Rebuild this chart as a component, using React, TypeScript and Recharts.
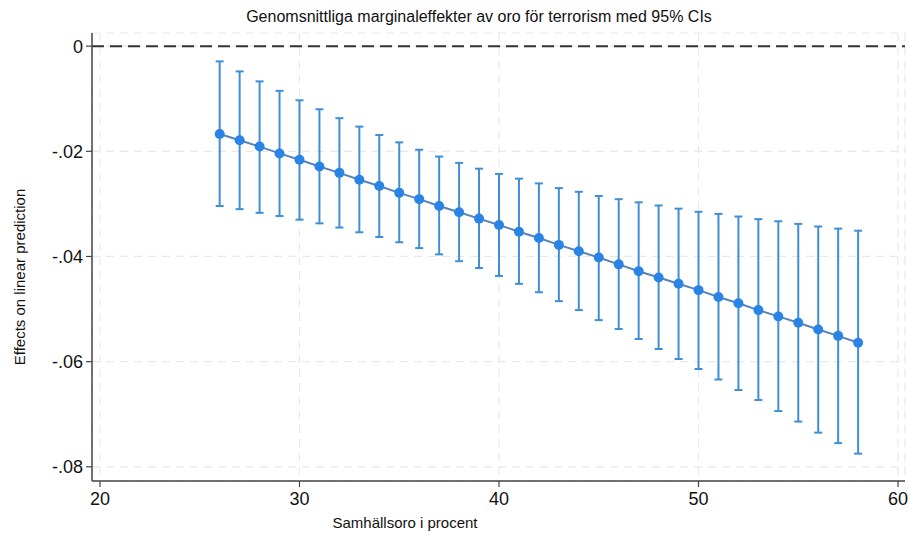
import {CartesianGrid, ComposedChart, ErrorBar, Line, ReferenceLine, XAxis, YAxis} from 'recharts';

// Samhällsoro (percent) values where margins were evaluated
const oroLevels = [26, 27, 28, 29, 30, 31, 32, 33, 34, 35, 36, 37, 38, 39, 40, 41, 42,
    43, 44, 45, 46, 47, 48, 49, 50, 51, 52, 53, 54, 55, 56, 57, 58];

// average marginal effect (point estimates)
const effects = [-0.0167, -0.0179, -0.0191, -0.0204, -0.0216, -0.0229, -0.0241, -0.0254, -0.0266,
    -0.0279, -0.0291, -0.0304, -0.0316, -0.0328, -0.0340, -0.0353, -0.0365, -0.0378, -0.0390,
    -0.0402, -0.0415, -0.0428, -0.0440, -0.0452, -0.0464, -0.0477, -0.0489, -0.0502, -0.0514,
    -0.0526, -0.0539, -0.0551, -0.0564];

// 95% CI upper bounds
const ciUpper = [-0.0029, -0.0048, -0.0067, -0.0085, -0.0103, -0.0120, -0.0137, -0.0153, -0.0169,
    -0.0183, -0.0197, -0.0210, -0.0222, -0.0233, -0.0243, -0.0252, -0.0261, -0.0270, -0.0277,
    -0.0285, -0.0291, -0.0297, -0.0303, -0.0309, -0.0315, -0.0319, -0.0324, -0.0329, -0.0333,
    -0.0338, -0.0343, -0.0347, -0.0351];

// 95% CI lower bounds
const ciLower = [-0.0304, -0.0310, -0.0317, -0.0323, -0.0330, -0.0337, -0.0345, -0.0354, -0.0363,
    -0.0373, -0.0384, -0.0396, -0.0409, -0.0422, -0.0437, -0.0452, -0.0468, -0.0485, -0.0502,
    -0.0521, -0.0538, -0.0557, -0.0576, -0.0595, -0.0614, -0.0634, -0.0654, -0.0673, -0.0694,
    -0.0714, -0.0735, -0.0755, -0.0775];

const xTicks = [20, 30, 40, 50, 60];
const yTicks = [0, -0.02, -0.04, -0.06, -0.08];

const FONT = '"Liberation Sans", Arial, sans-serif';

const chartData = oroLevels.map((x, i) => ({
    x,
    effect: effects[i],
    // ErrorBar wants distances from the point: [below, above]
    ci: [effects[i] - ciLower[i], ciUpper[i] - effects[i]]
}));

const formatY = (v: number) => {
    if (v === 0) return '0';
    return v.toFixed(2).replace('0.', '.');
};

const App = () => {
    return (
        <div style={{position: 'absolute', left: 0, top: 0, width: 909, height: 543, background: '#fff', fontFamily: FONT}}>
            <div style={{position: 'absolute', left: 0, top: 7, width: 958, textAlign: 'center', fontSize: 16, color: '#111', lineHeight: '20px'}}>
                Genomsnittliga marginaleffekter av oro för terrorism med 95% CIs
            </div>
            <ComposedChart
                width={909}
                height={543}
                data={chartData}
                margin={{top: 33, right: 4, bottom: 0, left: 0}}
            >
                <CartesianGrid stroke="#e8e8e8" strokeDasharray="8 6" strokeWidth={1.2}/>
                <XAxis
                    dataKey="x"
                    type="number"
                    domain={[19.6, 60.35]}
                    allowDataOverflow
                    ticks={xTicks}
                    height={62}
                    tick={{fontSize: 18, fill: '#111', fontFamily: FONT}}
                    tickSize={6}
                    tickMargin={5}
                    axisLine={{stroke: '#444', strokeWidth: 1.5}}
                    tickLine={{stroke: '#444', strokeWidth: 1.2}}
                    label={{
                        content: () => (
                            <text x={405} y={528} textAnchor="middle" fontSize={15} fill="#111" fontFamily={FONT}>
                                Samhällsoro i procent
                            </text>
                        )
                    }}
                />
                <YAxis
                    type="number"
                    domain={[-0.0827, 0.0025]}
                    allowDataOverflow
                    ticks={yTicks}
                    tickFormatter={formatY}
                    width={92}
                    tick={{fontSize: 18, fill: '#111', fontFamily: FONT}}
                    tickSize={6}
                    tickMargin={3}
                    axisLine={{stroke: '#444', strokeWidth: 1.5}}
                    tickLine={{stroke: '#444', strokeWidth: 1.2}}
                    label={{
                        content: () => (
                            <text x={25} y={277} textAnchor="middle" fontSize={15} fill="#111" fontFamily={FONT}
                                  transform="rotate(-90 25 277)">
                                Effects on linear prediction
                            </text>
                        )
                    }}
                />
                <ReferenceLine y={0} stroke="#333" strokeWidth={2} strokeDasharray="12 6"/>
                <Line
                    dataKey="effect"
                    type="linear"
                    stroke="#5585b8"
                    strokeWidth={2}
                    dot={{r: 5, fill: '#2a84e6', stroke: 'none'}}
                    activeDot={false}
                    isAnimationActive={false}
                >
                    <ErrorBar dataKey="ci" direction="y" width={4} stroke="#3f8ed6" strokeWidth={2}/>
                </Line>
            </ComposedChart>
        </div>
    );
};

export default App;
